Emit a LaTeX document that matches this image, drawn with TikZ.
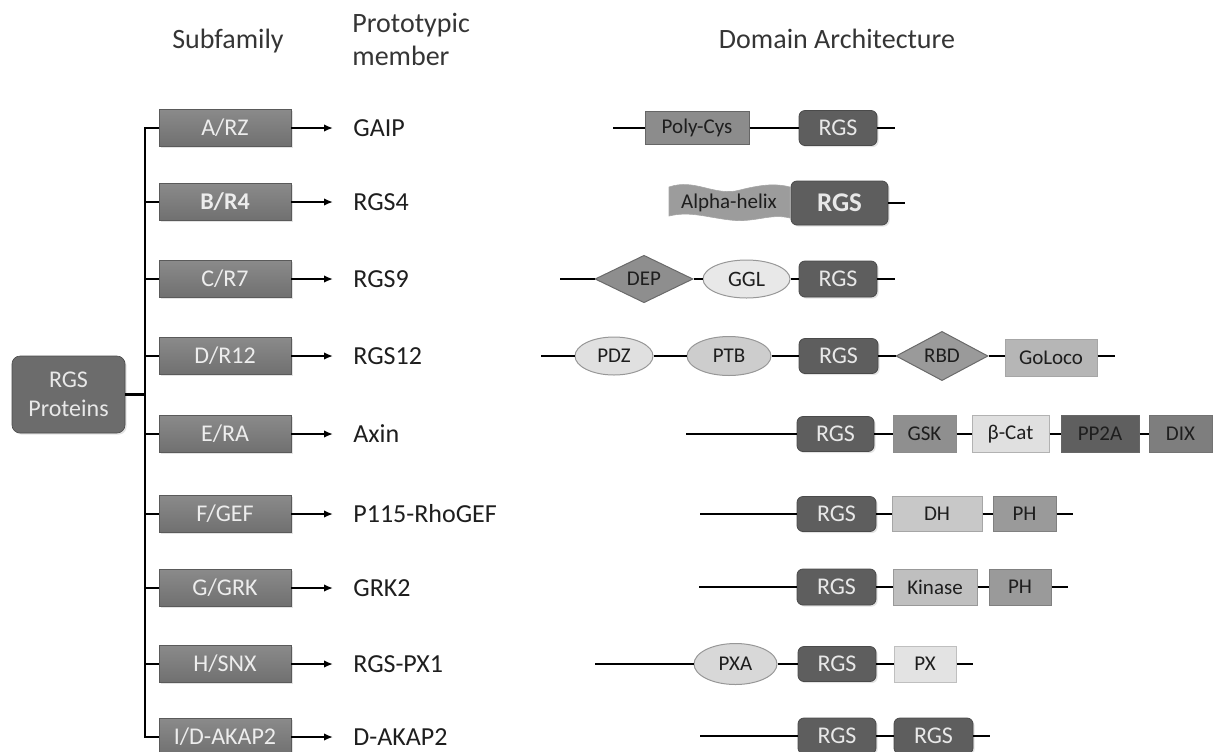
\documentclass[tikz,border=0pt]{standalone}
\usepackage{fontspec}
\setmainfont{Carlito}
\usetikzlibrary{arrows.meta,shapes.geometric,shadows}
\definecolor{txtdark}{HTML}{1E1E1E}
\definecolor{subtop}{HTML}{8A8A8A}
\definecolor{subbot}{HTML}{707070}
\definecolor{subtxt}{HTML}{EDEDED}
\definecolor{rootfill}{HTML}{6C6C6C}
\definecolor{rgsfill}{HTML}{5E5E5E}
\definecolor{rgsedge}{HTML}{4A4A4A}
\definecolor{rgstxt}{HTML}{E8E8E8}
\definecolor{domedge}{HTML}{6A6A6A}
\definecolor{cPoly}{HTML}{8C8C8C}
\definecolor{cAlpha}{HTML}{9C9C9C}
\definecolor{cDEP}{HTML}{8E8E8E}
\definecolor{cGGL}{HTML}{E8E8E8}
\definecolor{cPDZ}{HTML}{E0E0E0}
\definecolor{cPTB}{HTML}{CDCDCD}
\definecolor{cRBD}{HTML}{9A9A9A}
\definecolor{cGoLoco}{HTML}{B6B6B6}
\definecolor{cGSK}{HTML}{8F8F8F}
\definecolor{cBCat}{HTML}{E0E0E0}
\definecolor{cPPA}{HTML}{5F5F5F}
\definecolor{cDIX}{HTML}{7E7E7E}
\definecolor{cDH}{HTML}{C8C8C8}
\definecolor{cPH}{HTML}{9A9A9A}
\definecolor{cKinase}{HTML}{BFBFBF}
\definecolor{cPX}{HTML}{E3E3E3}
\definecolor{cPXA}{HTML}{D8D8D8}
\begin{document}
\begin{tikzpicture}[x=0.5pt,y=-0.5pt,
  sz/.style 2 args={minimum width=#1*0.5pt, minimum height=#2*0.5pt},
  shad/.style={drop shadow={opacity=0.22,shadow xshift=0.8pt,shadow yshift=-0.8pt}},
  sub/.style={rectangle, draw=subbot!80!black, line width=0.3pt, top color=subtop, bottom color=subbot,
    text=subtxt, font=\fontsize{12}{14}\selectfont, inner sep=0pt, sz={132}{37}, shad},
  root/.style={rectangle, rounded corners=4pt, draw=rgsedge, line width=0.3pt, fill=rootfill, text=rgstxt,
    font=\fontsize{12}{14.5}\selectfont, align=center, inner sep=0pt, sz={113}{77}, shad},
  hdr/.style={font=\fontsize{14}{16.5}\selectfont, text=txtdark!90, anchor=base, inner sep=0pt},
  mem/.style={anchor=west, inner xsep=10pt, inner ysep=0pt, font=\fontsize{13}{15}\selectfont, text=txtdark},
  link/.style={line width=1.1pt, draw=black},
  arr/.style={link, -{Latex[length=4.5pt,width=3.8pt]}},
  bb/.style={line width=1.3pt, draw=black},
  dbox/.style={rectangle, draw=domedge, line width=0.5pt, inner sep=0pt,
    font=\fontsize{10.5}{12}\selectfont, text=txtdark},
  rgs/.style={rectangle, rounded corners=3pt, draw=rgsedge, line width=0.4pt, fill=rgsfill, text=rgstxt,
    inner sep=0pt, font=\fontsize{12}{14}\selectfont, shad},
  oval/.style={ellipse, draw=domedge!70, line width=0.5pt, inner sep=0pt,
    font=\fontsize{10.5}{12}\selectfont, text=txtdark},
  dia/.style={diamond, draw=domedge, line width=0.5pt, inner sep=0pt,
    font=\fontsize{10.5}{12}\selectfont, text=txtdark}
]
\useasboundingbox (0,0) rectangle (1216,751);

% headers
\node[hdr] (hSub) at (228,48) {Subfamily};
\node[hdr, anchor=base west, align=left] (hProto) at (352,65) {Prototypic\\member};
\node[hdr] (hDom) at (837,48) {Domain Architecture};

% root
\node[root] (root) at (68.5,394.5) {RGS\\Proteins};

% subfamily boxes
\node[sub] (sA) at (225,128) {A/RZ};
\node[sub, font=\fontsize{12}{14}\selectfont\bfseries] (sB) at (225,202) {B/R4};
\node[sub] (sC) at (225,279) {C/R7};
\node[sub] (sD) at (225,356) {D/R12};
\node[sub] (sE) at (225,434) {E/RA};
\node[sub] (sF) at (225,514) {F/GEF};
\node[sub] (sG) at (225,588) {G/GRK};
\node[sub] (sH) at (225,664) {H/SNX};
\node[sub] (sI) at (225,737) {I/D-AKAP2};

% tree
\coordinate (ttop) at (145,128);
\coordinate (tbot) at (145,737);
\draw[link] (sA.west) -- (ttop) -- (tbot) -- (sI.west);
\foreach \n in {sB,sC,sD,sE,sF,sG,sH}{
  \draw[link] (\n.west) -- (\n.west -| ttop);
}
\draw[link] (root.east) -- (root.east -| ttop);

% members
\node[mem] (mA) at (333,128) {GAIP};
\node[mem] (mB) at (333,202) {RGS4};
\node[mem] (mC) at (333,279) {RGS9};
\node[mem] (mD) at (333,356) {RGS12};
\node[mem] (mE) at (333,434) {Axin};
\node[mem] (mF) at (333,514) {P115-RhoGEF};
\node[mem] (mG) at (333,588) {GRK2};
\node[mem] (mH) at (333,664) {RGS-PX1};
\node[mem] (mI) at (333,737) {D-AKAP2};
\foreach \r in {A,B,C,D,E,F,G,H,I}{
  \draw[arr] (s\r.east) -- (m\r.west);
}

% ---- Row A
\coordinate (aS) at (613,128);
\coordinate (aE) at (895,128);
\node[dbox, fill=cPoly, draw=black!60, sz={104}{33}] (aPoly) at (697,128) {Poly-Cys};
\node[rgs, sz={78}{35}] (aR) at (838,128) {RGS};
\draw[bb] (aS) -- (aPoly) -- (aR) -- (aE);

% ---- Row B
\fill[cAlpha, draw=black!35, line width=0.3pt] (669,187) .. controls (695,178) and (715,197) .. (740,190)
  .. controls (760,185) and (775,183) .. (790,187) -- (790,218)
  .. controls (770,213) and (755,223) .. (730,220) .. controls (705,217) and (690,211) .. (669,216) -- cycle;
\node[font=\fontsize{10.5}{12}\selectfont, text=txtdark, inner sep=0pt] (bAlpha) at (729,203) {Alpha-helix};
\node[rgs, sz={97}{44}, font=\fontsize{13.5}{15}\selectfont\bfseries] (bR) at (839.5,203) {RGS};
\coordinate (bE) at (905,203);
\draw[bb] (bR) -- (bE);

% ---- Row C
\coordinate (cS) at (560,279);
\coordinate (cE) at (895,279);
\node[dia, fill=cDEP, sz={98}{44}] (cDEPn) at (644,279) {DEP};
\node[oval, fill=cGGL, sz={87}{38}, font=\fontsize{11}{12}\selectfont] (cGGLn) at (746.5,279) {GGL};
\node[rgs, sz={78}{36}] (cR) at (838,279) {RGS};
\draw[bb] (cS) -- (cDEPn) -- (cGGLn) -- (cR) -- (cE);

% ---- Row D
\coordinate (dS) at (541,356);
\coordinate (dE) at (1115,356);
\node[oval, fill=cPDZ, sz={78}{38}] (dPDZ) at (614,356) {PDZ};
\node[oval, fill=cPTB, sz={84}{39}] (dPTB) at (729,356) {PTB};
\node[rgs, sz={79}{35}] (dR) at (838.5,356) {RGS};
\node[dia, fill=cRBD, sz={92}{41}] (dRBD) at (942,356) {RBD};
\node[dbox, fill=cGoLoco, draw=black!35, sz={92}{37}] (dGo) at (1051,358) {GoLoco};
\draw[bb] (dS) -- (dPDZ) -- (dPTB) -- (dR) -- (dRBD) -- (dGo.west |- dRBD) ;
\draw[bb] (dGo.east |- dE) -- (dE);

% ---- Row E
\coordinate (eS) at (686,434);
\node[rgs, sz={77}{35}] (eR) at (835.5,434) {RGS};
\node[dbox, fill=cGSK, draw=black!45, sz={63}{37}] (eGSK) at (924.5,434) {GSK};
\node[dbox, fill=cBCat, draw=black!30, sz={77}{37}] (eCat) at (1010.5,434) {β-Cat};
\node[dbox, fill=cPPA, draw=black!60, sz={78}{37}] (ePP) at (1100,434) {PP2A};
\node[dbox, fill=cDIX, draw=black!55, text=black!88, sz={63}{37}] (eDIX) at (1180.5,434) {DIX};
\draw[bb] (eS) -- (eR) -- (eGSK) -- (eCat) -- (ePP) -- (eDIX);

% ---- Row F
\coordinate (fS) at (700,514);
\coordinate (fE) at (1073,514);
\node[rgs, sz={79}{35}] (fR) at (836.5,514) {RGS};
\node[dbox, fill=cDH, draw=black!35, sz={90}{35}] (fDH) at (937,514) {DH};
\node[dbox, fill=cPH, draw=black!50, sz={63}{35}] (fPH) at (1024.5,514) {PH};
\draw[bb] (fS) -- (fR) -- (fDH) -- (fPH) -- (fE);

% ---- Row G
\coordinate (gS) at (699,587);
\coordinate (gE) at (1068,587);
\node[rgs, sz={79}{36}] (gR) at (836.5,587) {RGS};
\node[dbox, fill=cKinase, draw=black!40, sz={84}{36}] (gK) at (935,587) {Kinase};
\node[dbox, fill=cPH, draw=black!50, sz={62}{36}] (gPH) at (1020,587) {PH};
\draw[bb] (gS) -- (gR) -- (gK) -- (gPH) -- (gE);

% ---- Row H
\coordinate (hS) at (595,664);
\coordinate (hE) at (973,664);
\node[oval, fill=cPXA, sz={83}{41}] (hPXA) at (735.5,664) {PXA};
\node[rgs, sz={78}{35}] (hR) at (837,664) {RGS};
\node[dbox, fill=cPX, draw=black!25, sz={62}{36}] (hPX) at (925,664) {PX};
\draw[bb] (hS) -- (hPXA) -- (hR) -- (hPX) -- (hE);

% ---- Row I
\coordinate (iS) at (700,736);
\coordinate (iE) at (990,736);
\node[rgs, sz={78}{36}] (iR1) at (837,736) {RGS};
\node[rgs, sz={79}{36}] (iR2) at (933.5,736) {RGS};
\draw[bb] (iS) -- (iR1) -- (iR2) -- (iE);
\end{tikzpicture}
\end{document}
